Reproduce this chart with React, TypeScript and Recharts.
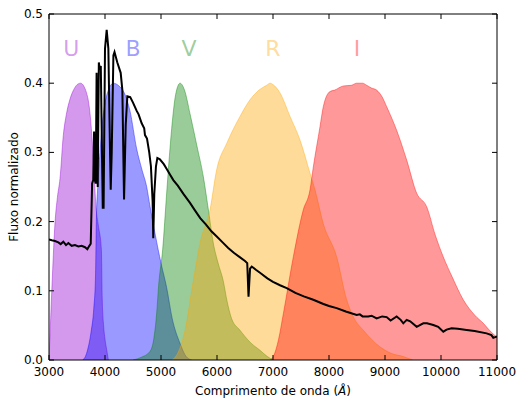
import React from 'react';
import { ComposedChart, Area, Line, Scatter, XAxis, YAxis, Label } from 'recharts';

// Filter transmission curves: [wavelength (Å), normalised throughput]
const U_FILTER: [number, number][] = [
  [3000, 0], [3020, 0.04], [3060, 0.12], [3107, 0.198], [3150, 0.235], [3196, 0.262],
  [3256, 0.325], [3310, 0.355], [3375, 0.377], [3450, 0.392], [3520, 0.399], [3565, 0.4],
  [3620, 0.396], [3670, 0.386], [3702, 0.375], [3740, 0.35], [3762, 0.328], [3790, 0.29],
  [3810, 0.262], [3840, 0.22], [3880, 0.195], [3935, 0.16], [3950, 0.09], [3975, 0.05],
  [4000, 0.03], [4030, 0.015], [4060, 0],
];

const B_FILTER: [number, number][] = [
  [3600, 0], [3650, 0.005], [3690, 0.015], [3750, 0.04], [3800, 0.075], [3830, 0.12],
  [3845, 0.2], [3870, 0.25], [3910, 0.3], [3950, 0.34], [4000, 0.371], [4060, 0.39],
  [4148, 0.4], [4250, 0.396], [4350, 0.385], [4446, 0.36], [4566, 0.305], [4660, 0.275],
  [4745, 0.25], [4804, 0.222], [4900, 0.18], [5000, 0.14], [5100, 0.105], [5200, 0.06],
  [5340, 0.024], [5450, 0.005], [5550, 0],
];

const V_FILTER: [number, number][] = [
  [4500, 0], [4650, 0.004], [4800, 0.012], [4870, 0.03], [4920, 0.065], [4960, 0.11],
  [5030, 0.16], [5100, 0.24], [5150, 0.295], [5191, 0.335], [5260, 0.383], [5340, 0.4],
  [5420, 0.39], [5518, 0.356], [5640, 0.31], [5756, 0.265], [5850, 0.215], [5934, 0.169],
  [6020, 0.14], [6110, 0.115], [6180, 0.085], [6260, 0.06], [6411, 0.043], [6600, 0.025],
  [6768, 0.014], [6900, 0.005], [7000, 0],
];

const R_FILTER: [number, number][] = [
  [5200, 0], [5300, 0.01], [5430, 0.043], [5580, 0.116], [5700, 0.17], [5875, 0.217],
  [5994, 0.275], [6173, 0.313], [6300, 0.335], [6411, 0.352], [6589, 0.376], [6750, 0.39],
  [6887, 0.397], [6950, 0.4], [7000, 0.398], [7125, 0.386], [7304, 0.352], [7482, 0.318],
  [7661, 0.27], [7750, 0.246], [7898, 0.197], [8137, 0.149], [8316, 0.087], [8450, 0.06],
  [8613, 0.043], [8911, 0.019], [9100, 0.01], [9327, 0.005], [9500, 0],
];

const I_FILTER: [number, number][] = [
  [6950, 0], [7006, 0.005], [7100, 0.03], [7185, 0.067], [7363, 0.149], [7541, 0.217],
  [7661, 0.246], [7720, 0.279], [7839, 0.337], [7898, 0.366], [8018, 0.388], [8100, 0.39],
  [8256, 0.396], [8400, 0.397], [8494, 0.4], [8600, 0.4], [8673, 0.397], [8760, 0.393],
  [8851, 0.39], [8950, 0.38], [9030, 0.366], [9208, 0.332], [9387, 0.289], [9566, 0.241],
  [9744, 0.2215], [9900, 0.18], [10041, 0.149], [10200, 0.12], [10398, 0.087],
  [10600, 0.065], [10756, 0.053], [10900, 0.04], [11000, 0.033],
];

// Stellar spectrum, normalised flux
const SPECTRUM: [number, number][] = [
  [3000, 0.174], [3050, 0.173], [3107, 0.172], [3167, 0.17], [3208, 0.1675], [3256, 0.171],
  [3304, 0.166], [3345, 0.169], [3405, 0.165], [3464, 0.166], [3524, 0.164], [3583, 0.165],
  [3643, 0.163], [3685, 0.16], [3720, 0.165], [3745, 0.168], [3770, 0.255], [3790, 0.26],
  [3805, 0.33], [3818, 0.26], [3835, 0.255], [3850, 0.415], [3870, 0.25], [3890, 0.43],
  [3905, 0.42], [3925, 0.425], [3960, 0.22], [3975, 0.22], [4000, 0.45], [4030, 0.477],
  [4060, 0.45], [4090, 0.3], [4102, 0.246], [4120, 0.3], [4150, 0.44], [4170, 0.445],
  [4220, 0.43], [4280, 0.415], [4310, 0.39], [4340, 0.232], [4370, 0.34], [4399, 0.381],
  [4450, 0.38], [4500, 0.372], [4566, 0.36], [4600, 0.355], [4655, 0.342], [4700, 0.335],
  [4714, 0.325], [4750, 0.32], [4790, 0.3], [4820, 0.28], [4850, 0.23], [4862, 0.176],
  [4880, 0.24], [4910, 0.28], [4935, 0.292], [4980, 0.29], [5050, 0.283], [5102, 0.276],
  [5160, 0.268], [5220, 0.26], [5300, 0.252], [5400, 0.24], [5518, 0.227], [5600, 0.217],
  [5700, 0.205], [5800, 0.196], [5900, 0.186], [6000, 0.178], [6100, 0.17], [6200, 0.162],
  [6300, 0.155], [6400, 0.149], [6500, 0.143], [6540, 0.14], [6563, 0.0915], [6590, 0.132],
  [6620, 0.135], [6700, 0.13], [6768, 0.126], [6900, 0.118], [7000, 0.113], [7125, 0.108],
  [7245, 0.104], [7400, 0.097], [7550, 0.092], [7720, 0.087], [7900, 0.081], [8000, 0.078],
  [8137, 0.075], [8300, 0.07], [8494, 0.065], [8550, 0.066], [8600, 0.063], [8700, 0.063],
  [8760, 0.064], [8851, 0.06], [8950, 0.063], [9030, 0.062], [9100, 0.057], [9208, 0.063],
  [9280, 0.058], [9327, 0.053], [9387, 0.058], [9450, 0.056], [9566, 0.048], [9684, 0.053],
  [9750, 0.053], [9863, 0.0506], [9950, 0.048], [10041, 0.041], [10100, 0.044],
  [10190, 0.046], [10300, 0.045], [10458, 0.0434], [10600, 0.042], [10815, 0.0385],
  [10900, 0.036], [10934, 0.032], [11000, 0.034],
];

const FILTER_NAMES = ['U', 'B', 'V', 'R', 'I'];
const FILTER_COLORS = ['#9400d3', '#0000ff', '#008000', '#ffa500', '#ff0000'];
const FILTER_CURVES = [U_FILTER, B_FILTER, V_FILTER, R_FILTER, I_FILTER];
const LABEL_WAVE = [3400, 4500, 5500, 7000, 8500];
const LABEL_FLUX = 0.45;

const X_TICKS = [3000, 4000, 5000, 6000, 7000, 8000, 9000, 10000, 11000];
const Y_TICKS = [0, 0.1, 0.2, 0.3, 0.4, 0.5];

const FONT = '"DejaVu Sans", sans-serif';
const TICK_LEN = 5;
const ALPHA = 0.4;

const toPoints = (rows: [number, number][]) => rows.map(([w, f]) => ({ w, f }));

const labelPoints = FILTER_NAMES.map((name, i) => ({
  w: LABEL_WAVE[i],
  f: LABEL_FLUX,
  name,
  color: FILTER_COLORS[i],
}));

function BottomTick({ x, y, payload }: any) {
  return (
    <g>
      <line x1={x} x2={x} y1={y} y2={y - TICK_LEN} stroke="#000" />
      <text x={x} y={y + 16} textAnchor="middle" fontSize={12} fontFamily={FONT} fill="#000">
        {payload.value}
      </text>
    </g>
  );
}

function TopTick({ x, y }: any) {
  return <line x1={x} x2={x} y1={y} y2={y + TICK_LEN} stroke="#000" />;
}

function LeftTick({ x, y, payload }: any) {
  return (
    <g>
      <line x1={x} x2={x + TICK_LEN} y1={y} y2={y} stroke="#000" />
      <text x={x - 6} y={y + 4} textAnchor="end" fontSize={12} fontFamily={FONT} fill="#000">
        {Number(payload.value).toFixed(1)}
      </text>
    </g>
  );
}

function RightTick({ x, y }: any) {
  return <line x1={x} x2={x - TICK_LEN} y1={y} y2={y} stroke="#000" />;
}

function FilterLabel({ cx, cy, payload }: any) {
  return (
    <text
      x={cx}
      y={cy + 7}
      textAnchor="middle"
      fontSize={22}
      fontFamily={FONT}
      fill={payload.color}
      fillOpacity={ALPHA}
    >
      {payload.name}
    </text>
  );
}

function XTitle({ viewBox }: any) {
  const cx = viewBox.x + viewBox.width / 2;
  return (
    <text x={cx} y={viewBox.y + 35} textAnchor="middle" fontSize={12} fontFamily={FONT} fill="#000">
      Comprimento de onda (<tspan fontStyle="italic">Å</tspan>)
    </text>
  );
}

function YTitle({ viewBox }: any) {
  const cy = viewBox.y + viewBox.height / 2;
  const x = 18;
  return (
    <text
      x={x}
      y={cy}
      transform={`rotate(-90, ${x}, ${cy})`}
      textAnchor="middle"
      fontSize={12}
      fontFamily={FONT}
      fill="#000"
    >
      Fluxo normalizado
    </text>
  );
}

export default function App() {
  return (
    <div style={{ position: 'absolute', left: 0, top: 0, width: 518, height: 400, background: '#fff' }}>
      <ComposedChart width={518} height={400} margin={{ top: 0, right: 0, bottom: 0, left: 0 }}>
        <XAxis
          xAxisId={0}
          dataKey="w"
          type="number"
          domain={[3000, 11000]}
          ticks={X_TICKS}
          interval={0}
          allowDataOverflow
          height={40}
          tickSize={0}
          tickMargin={0}
          tickLine={false}
          axisLine={{ stroke: '#000' }}
          tick={<BottomTick />}
        >
          <Label content={<XTitle />} />
        </XAxis>
        <XAxis
          xAxisId="top"
          orientation="top"
          dataKey="w"
          type="number"
          domain={[3000, 11000]}
          ticks={X_TICKS}
          interval={0}
          allowDataOverflow
          height={14}
          tickSize={0}
          tickMargin={0}
          tickLine={false}
          axisLine={{ stroke: '#000' }}
          tick={<TopTick />}
        />
        <YAxis
          yAxisId={0}
          type="number"
          domain={[0, 0.5]}
          ticks={Y_TICKS}
          interval={0}
          allowDataOverflow
          width={49}
          tickSize={0}
          tickMargin={0}
          tickLine={false}
          axisLine={{ stroke: '#000' }}
          tick={<LeftTick />}
        >
          <Label content={<YTitle />} />
        </YAxis>
        <YAxis
          yAxisId="right"
          orientation="right"
          type="number"
          domain={[0, 0.5]}
          ticks={Y_TICKS}
          interval={0}
          allowDataOverflow
          width={21}
          tickSize={0}
          tickMargin={0}
          tickLine={false}
          axisLine={{ stroke: '#000' }}
          tick={<RightTick />}
        />

        {FILTER_CURVES.map((curve, i) => (
          <Area
            key={FILTER_NAMES[i]}
            data={toPoints(curve)}
            dataKey="f"
            type="monotone"
            fill={FILTER_COLORS[i]}
            fillOpacity={ALPHA}
            stroke={FILTER_COLORS[i]}
            strokeOpacity={ALPHA}
            strokeWidth={1}
            baseValue={0}
            isAnimationActive={false}
            dot={false}
            activeDot={false}
          />
        ))}

        <Line
          data={toPoints(SPECTRUM)}
          dataKey="f"
          type="linear"
          stroke="#000"
          strokeWidth={2}
          dot={false}
          activeDot={false}
          isAnimationActive={false}
        />

        <Scatter data={labelPoints} dataKey="f" shape={<FilterLabel />} isAnimationActive={false} />
      </ComposedChart>
    </div>
  );
}
